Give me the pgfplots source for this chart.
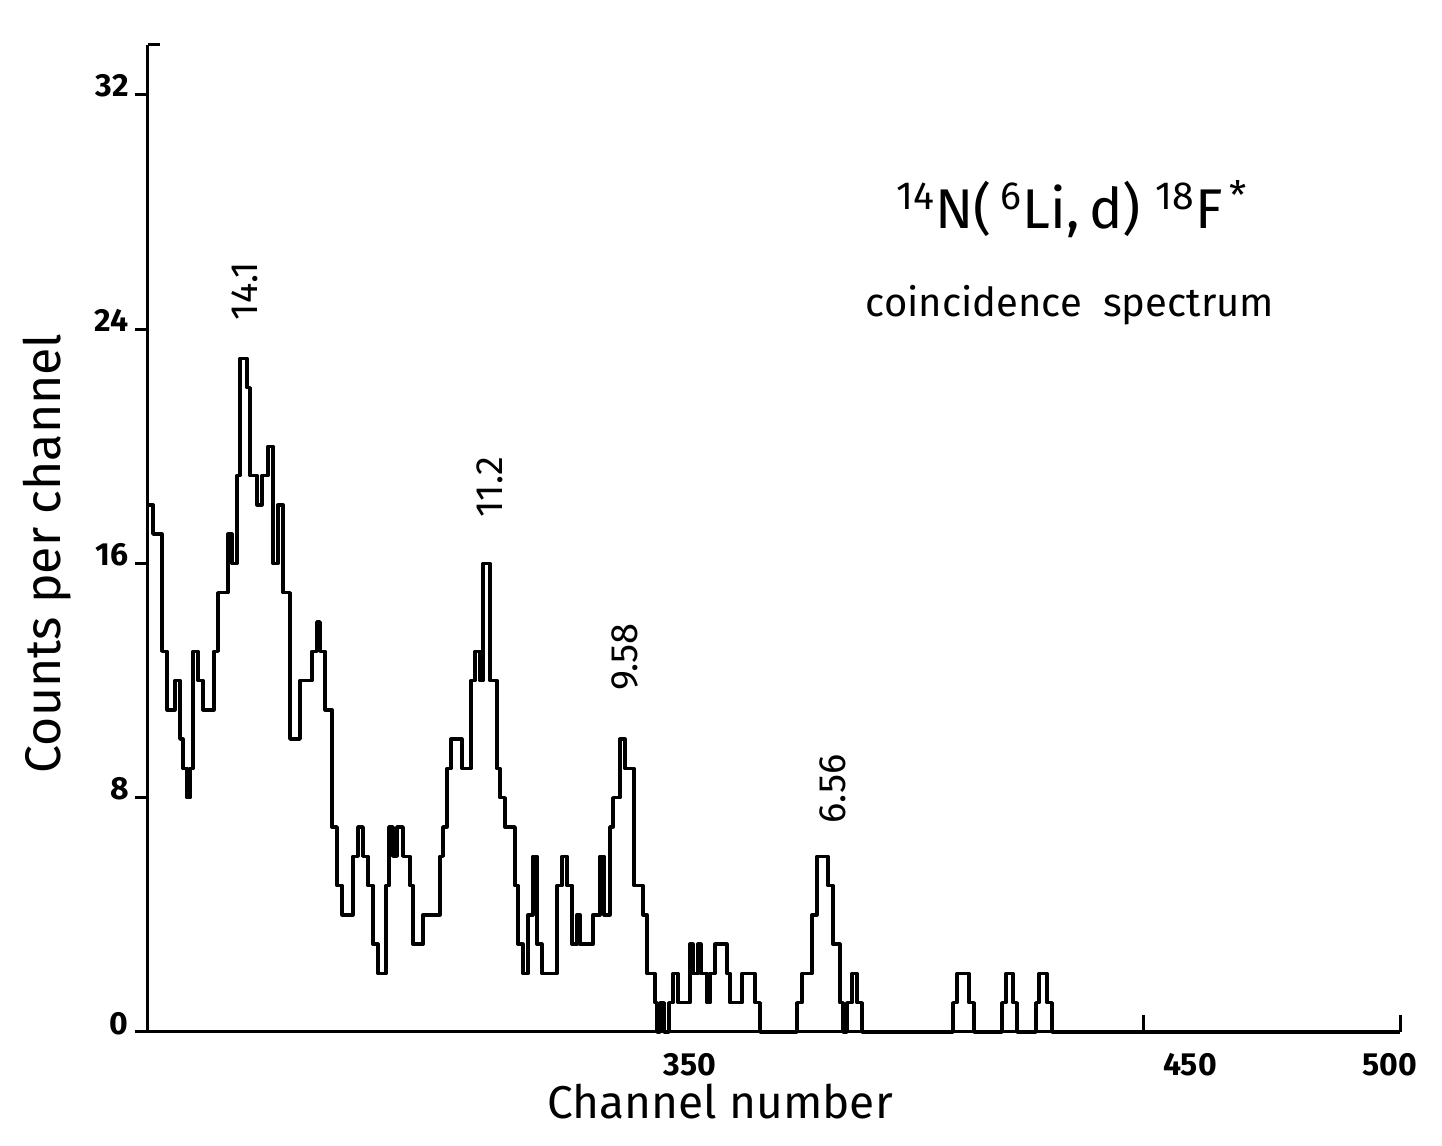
\documentclass[border=0pt]{standalone}
\usepackage{pgfplots}
\pgfplotsset{compat=1.18}
\usepackage{fontspec}
\setmainfont{Fira Sans}
\begin{document}
\begin{tikzpicture}
\path[use as bounding box] (-74pt,-57pt) rectangle (647pt,516pt);
\begin{axis}[
  at={(0,0)}, anchor=south west,
  scale only axis, width=626pt, height=493.5pt,
  xmin=241.6, xmax=492, ymin=0, ymax=33.7,
  axis x line=bottom, axis y line=left,
  axis line style={line width=1.5pt,-},
  clip=false,
  /pgf/number format/assume math mode=true,
  tick align=outside,
  major tick length=6.5pt,
  tick style={line width=1.5pt,black},
  xtick={350,450,490}, xticklabels={350,450,500},
  xtick style={draw=none},
  extra x ticks={440.6,492}, extra x tick labels={},
  extra x tick style={tick align=inside, major tick length=8.5pt, xtick style={draw=black,line width=1.5pt}},
  ytick={0,8,16,24,32},
  minor tick num=0,
  xticklabel style={font=\bfseries\fontsize{16}{16}\selectfont, anchor=north, inner sep=0pt, yshift=-4pt},
  yticklabel style={font=\bfseries\fontsize{16}{16}\selectfont, anchor=south east, inner sep=0pt, xshift=-3pt, yshift=-1.5pt},
  xlabel={Channel number},
  ylabel={Counts per channel},
  xlabel style={font=\fontsize{23}{23}\selectfont, at={(axis description cs:0.457,-0.0705)}, anchor=center},
  ylabel style={font=\fontsize{25}{25}\selectfont, at={(axis description cs:-0.0807,0.485)}, anchor=center, rotate=0},
]
\addplot[const plot, black, line width=1.7pt, line join=round] coordinates {
(241.6,18) (242.6,17) (244.4,13) (245.4,11) (247.0,12) (248.0,10) (248.6,9) (249.4,8) (250.0,9) (250.6,13)
(251.6,12) (252.6,11) (254.8,13) (255.6,15) (257.6,17) (258.4,16) (259.4,19) (260.0,23) (261.4,22) (262.0,19)
(263.4,18) (264.4,19) (265.6,20) (266.6,16) (267.6,18) (268.6,15) (270.0,10) (272.0,12) (274.4,13) (275.4,14)
(276.0,13) (277.0,11) (278.4,7) (279.4,5) (280.4,4) (282.6,6) (283.6,7) (284.6,6) (285.6,5) (286.6,3)
(287.6,2) (289.2,5) (289.8,7) (290.6,6) (291.4,7) (292.6,6) (294.0,5) (294.6,3) (296.6,4) (300.0,6)
(300.6,7) (301.4,9) (302.2,10) (304.4,9) (306.2,12) (307.0,13) (308.0,12) (308.6,16) (310.0,12) (311.4,9)
(312.0,8) (313.0,7) (315.0,5) (315.6,3) (316.6,2) (317.6,4) (318.6,6) (319.4,3) (320.4,2) (323.4,5)
(324.4,6) (325.4,5) (326.4,3) (327.4,4) (328.0,3) (330.6,4) (332.0,6) (332.8,4) (334.0,7) (334.6,8)
(336.0,10) (337.0,9) (338.8,5) (340.6,4) (341.4,2) (343.0,1) (343.4,0) (344.0,1) (344.8,0) (345.8,1)
(346.6,2) (347.6,1) (350.0,3) (350.6,2) (351.6,3) (352.2,2) (353.4,1) (354.0,2) (355.0,3) (357.4,2)
(358.0,1) (360.4,2) (363.0,1) (364.0,0) (371.4,1) (372.4,2) (374.4,4) (375.4,6) (377.6,5) (378.6,3)
(380.0,1) (380.6,0) (381.4,1) (382.4,2) (383.4,1) (384.4,0) (402.6,1) (403.4,2) (405.8,1) (406.8,0)
(412.4,1) (413.2,2) (414.6,1) (415.4,0) (419.2,1) (419.8,2) (421.4,1) (422.4,0) (492,0)
};
\draw[line width=1.5pt] (rel axis cs:0,1) -- (rel axis cs:0.0096,1);
\node[rotate=90, font=\fontsize{19}{19}\selectfont] at (axis cs:261,25.3) {14.1};
\node[rotate=90, font=\fontsize{19}{19}\selectfont] at (axis cs:310,18.6) {11.2};
\node[rotate=90, font=\fontsize{19}{19}\selectfont] at (axis cs:337,12.8) {9.58};
\node[rotate=90, font=\fontsize{19}{19}\selectfont] at (axis cs:378.6,8.3) {6.56};
\node[font=\fontsize{28}{28}\selectfont] at (axis cs:426.4,28.1) {\textsuperscript{14}N(\,\textsuperscript{6}Li,\,d)\ \textsuperscript{18}F\textsuperscript{\,*}};
\node[font=\fontsize{20}{20}\selectfont] at (axis cs:426,24.8) {coincidence\ \ spectrum};
\end{axis}
\end{tikzpicture}
\end{document}
